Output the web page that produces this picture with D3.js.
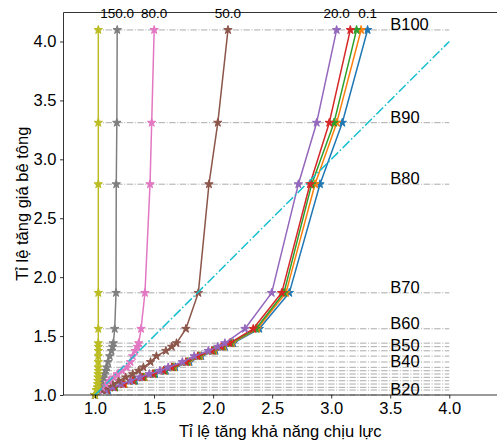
<!DOCTYPE html>
<html>
<head>
<meta charset="utf-8">
<script src="https://cdn.jsdelivr.net/npm/d3@7"></script>
<style>
  html, body { margin: 0; padding: 0; background: #fff; }
  svg text { font-family: "Liberation Sans", Arial, sans-serif; }
</style>
</head>
<body>
<svg id="chart" width="497" height="444"></svg>
<script>
// Concrete price-ratio levels (y) and their labels
const levels = [1.0, 1.042, 1.065, 1.093, 1.121, 1.15, 1.178, 1.206, 1.235, 1.28, 1.33, 1.375, 1.41, 1.44, 1.562, 1.867, 2.789, 3.311, 4.098];
const levelLabels = ["B20", "", "", "", "", "", "", "", "B40", "", "", "B50", "", "", "B60", "B70", "B80", "B90", "B100"];

// Series: capacity-increase ratio (x) at each level
const seriesNames = ["0.1", "", "", "", "20.0", "50.0", "80.0", "150.0", ""];
const seriesColors = ["#1f77b4", "#ff7f0e", "#2ca02c", "#d62728", "#9467bd", "#8c564b", "#e377c2", "#7f7f7f", "#bcbd22"];
const sBlue   = [1.0, 1.11, 1.17, 1.25, 1.34, 1.42, 1.51, 1.60, 1.68, 1.80, 1.90, 2.02, 2.10, 2.17, 2.391, 2.645, 2.905, 3.094, 3.308];
const sOrange = [1.0, 1.10, 1.17, 1.25, 1.33, 1.42, 1.50, 1.59, 1.67, 1.79, 1.89, 2.01, 2.09, 2.16, 2.374, 2.617, 2.863, 3.047, 3.253];
const sGreen  = [1.0, 1.10, 1.17, 1.24, 1.33, 1.41, 1.50, 1.59, 1.66, 1.78, 1.88, 2.00, 2.08, 2.15, 2.363, 2.600, 2.835, 3.024, 3.215];
const sRed    = [1.0, 1.10, 1.16, 1.24, 1.32, 1.40, 1.49, 1.58, 1.65, 1.77, 1.87, 1.99, 2.07, 2.14, 2.340, 2.581, 2.820, 2.984, 3.162];
const sPurple = [1.0, 1.09, 1.15, 1.22, 1.30, 1.38, 1.46, 1.55, 1.62, 1.74, 1.84, 1.96, 2.04, 2.10, 2.270, 2.496, 2.722, 2.877, 3.046];
const sBrown  = [1.0, 1.06, 1.10, 1.15, 1.20, 1.26, 1.32, 1.37, 1.41, 1.47, 1.52, 1.60, 1.65, 1.69, 1.770, 1.875, 1.965, 2.040, 2.126];
const sPink   = [1.0, 1.03, 1.06, 1.09, 1.12, 1.16, 1.19, 1.23, 1.27, 1.30, 1.32, 1.34, 1.36, 1.37, 1.390, 1.423, 1.466, 1.480, 1.501];
const sGray   = [1.0, 1.02, 1.03, 1.04, 1.055, 1.07, 1.08, 1.09, 1.10, 1.11, 1.125, 1.14, 1.15, 1.155, 1.167, 1.178, 1.180, 1.185, 1.188];
const sOlive  = [1.0, 1.01, 1.02, 1.022, 1.024, 1.025, 1.026, 1.027, 1.027, 1.027, 1.027, 1.028, 1.028, 1.028, 1.028, 1.028, 1.028, 1.028, 1.028];
const seriesValues = [sBlue, sOrange, sGreen, sRed, sPurple, sBrown, sPink, sGray, sOlive];

// Reference line y = x
const refLine = [[1, 1], [4, 4]];
const xTicks = [1.0, 1.5, 2.0, 2.5, 3.0, 3.5, 4.0];
const yTicks = [1.0, 1.5, 2.0, 2.5, 3.0, 3.5, 4.0];
const xTitle = "Tỉ lệ tăng khả năng chịu lực";
const yTitle = "Tỉ lệ tăng giá bê tông";

const svg = d3.select("#chart");
const L = 63.5, R = 497, T = 12.5, B = 395;
const FS = 16.5;
const x = d3.scaleLinear().domain([0.7333, 4.404]).range([L, R]);
const y = d3.scaleLinear().domain([1.0, 4.246]).range([B, T]);

const plot = svg.append("g");

// horizontal dash-dot level lines
plot.selectAll("line.level").data(levels).enter().append("line")
  .attr("x1", x(1.0)).attr("x2", x(4.0))
  .attr("y1", d => y(d)).attr("y2", d => y(d))
  .attr("stroke", "#ababab").attr("stroke-width", 1)
  .attr("stroke-dasharray", "6.4,1.6,1,1.6");

// series lines + star markers
const line = d3.line().x(d => x(d[0])).y(d => y(d[1]));
const star = d3.symbol().type(d3.symbolStar).size(22);
seriesValues.forEach((vals, i) => {
  const pts = vals.map((v, k) => [v, levels[k]]);
  const g = plot.append("g");
  g.append("path").datum(pts).attr("d", line)
    .attr("fill", "none").attr("stroke", seriesColors[i]).attr("stroke-width", 1.5)
    .attr("stroke-linejoin", "round");
  g.selectAll("path.m").data(pts).enter().append("path")
    .attr("transform", d => `translate(${x(d[0])},${y(d[1])})`)
    .attr("d", star)
    .attr("fill", seriesColors[i]).attr("stroke", seriesColors[i]).attr("stroke-width", 1);
});

// y = x reference
plot.append("path").datum(refLine).attr("d", line)
  .attr("fill", "none").attr("stroke", "#17becf").attr("stroke-width", 1.5)
  .attr("stroke-dasharray", "9.6,2.4,1.5,2.4");

// level labels
plot.selectAll("text.lvl").data(levels.map((v, k) => [v, levelLabels[k]]).filter(d => d[1]))
  .enter().append("text")
  .attr("x", x(3.5)).attr("y", d => y(d[0]))
  .attr("font-size", FS).attr("fill", "#000")
  .text(d => d[1]);

// series labels at top
seriesValues.forEach((vals, i) => {
  if (!seriesNames[i]) return;
  svg.append("text")
    .attr("x", x(vals[vals.length - 1])).attr("y", 17.5)
    .attr("text-anchor", "middle").attr("font-size", 13.5).attr("fill", "#000")
    .text(seriesNames[i]);
});

// axes
const xAxis = d3.axisBottom(x).tickValues(xTicks).tickFormat(d3.format(".1f")).tickSize(3.5).tickPadding(3.5);
const yAxis = d3.axisLeft(y).tickValues(yTicks).tickFormat(d3.format(".1f")).tickSize(3.5).tickPadding(3.5);
const gx = svg.append("g").attr("transform", `translate(0,${B})`).call(xAxis);
const gy = svg.append("g").attr("transform", `translate(${L},0)`).call(yAxis);
[gx, gy].forEach(g => {
  g.select(".domain").remove();
  g.selectAll("text").attr("font-size", FS).attr("fill", "#000").attr("font-family", "Liberation Sans, Arial, sans-serif");
  g.selectAll("line").attr("stroke", "#000").attr("stroke-width", 0.8);
});

// spines
svg.append("line").attr("x1", L).attr("x2", L).attr("y1", T).attr("y2", B).attr("stroke", "#000").attr("stroke-width", 0.8);
svg.append("line").attr("x1", L).attr("x2", R).attr("y1", B).attr("y2", B).attr("stroke", "#000").attr("stroke-width", 0.8);
svg.append("line").attr("x1", L).attr("x2", R).attr("y1", T).attr("y2", T).attr("stroke", "#000").attr("stroke-width", 0.8);

// axis titles
svg.append("text").attr("x", (L + R) / 2).attr("y", 437).attr("text-anchor", "middle")
  .attr("font-size", FS).attr("fill", "#000").text(xTitle);
svg.append("text").attr("transform", `translate(28,${(T + B) / 2}) rotate(-90)`)
  .attr("text-anchor", "middle").attr("font-size", FS).attr("fill", "#000").text(yTitle);
</script>
</body>
</html>
